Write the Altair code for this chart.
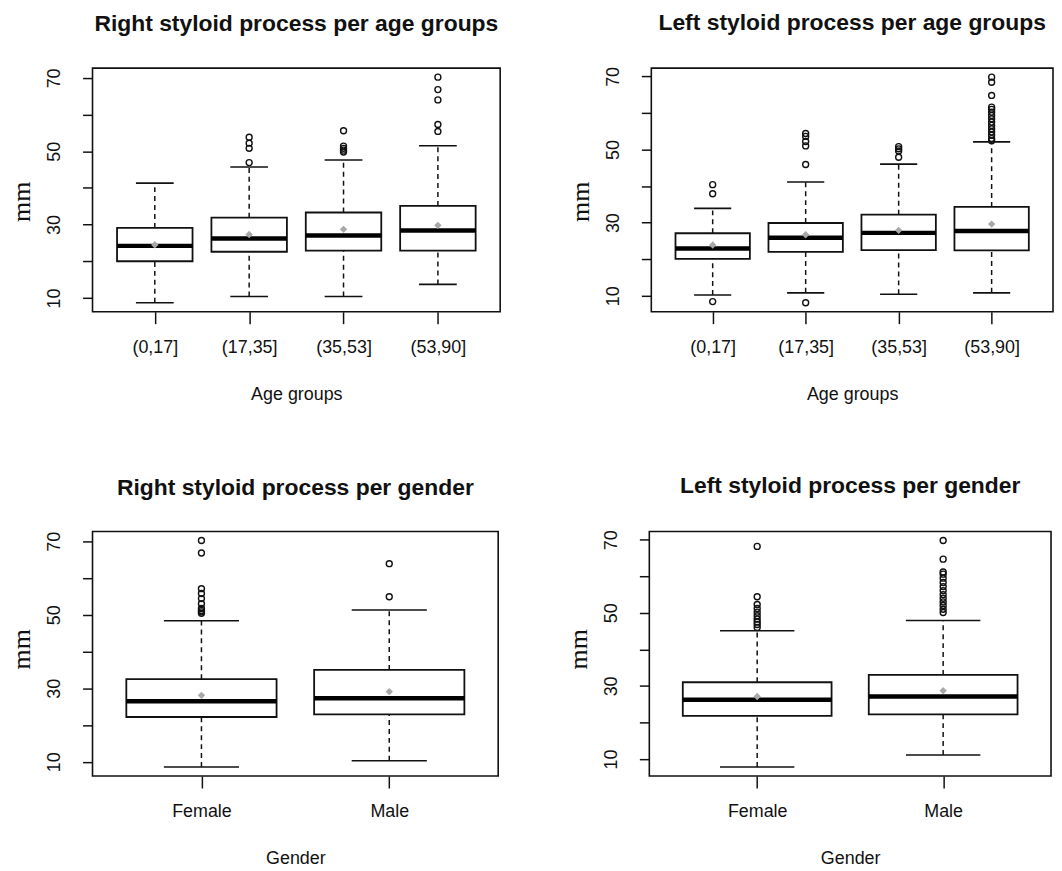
import altair as alt
import pandas as pd

AGE = ["(0,17]", "(17,35]", "(35,53]", "(53,90]"]
SEX = ["Female", "Male"]

# Right styloid process per age groups
ra_low = [8.7, 10.4, 10.4, 13.7]
ra_q1 = [20.0, 22.6, 22.9, 22.9]
ra_med = [24.2, 26.2, 27.0, 28.4]
ra_q3 = [29.1, 31.9, 33.3, 35.1]
ra_high = [41.3, 45.7, 47.6, 51.5]
ra_mean = [24.5, 27.3, 28.7, 29.8]
ra_out = [[], [53.8, 52.2, 50.8, 46.9], [55.6, 51.4, 50.8, 50.3, 49.8],
          [70.2, 66.8, 64.0, 57.3, 55.4]]

# Left styloid process per age groups
la_low = [10.2, 10.8, 10.4, 10.8]
la_q1 = [20.1, 22.0, 22.5, 22.4]
la_med = [22.9, 25.9, 27.2, 27.7]
la_q3 = [27.1, 29.9, 32.2, 34.3]
la_high = [33.9, 41.1, 46.0, 52.1]
la_mean = [23.9, 26.7, 27.9, 29.6]
la_out = [[40.4, 37.9, 8.4], [54.4, 53.6, 52.2, 51.0, 45.9, 8.1], [50.8, 50.2, 49.6, 47.9],
          [69.8, 68.4, 64.8, 61.6, 61.0, 60.2, 59.3, 58.4, 57.5, 56.6, 55.7, 54.8, 53.9, 53.0, 52.4]]

# Right styloid process per gender
rg_low = [8.6, 10.3]
rg_q1 = [22.2, 22.9]
rg_med = [26.5, 27.3]
rg_q3 = [32.5, 35.0]
rg_high = [48.4, 51.3]
rg_mean = [28.1, 29.1]
rg_out = [[70.2, 66.8, 57.1, 55.8, 54.4, 53.0, 51.7, 51.2, 50.8, 50.4], [63.9, 54.9]]

# Left styloid process per gender
lg_low = [7.8, 11.1]
lg_q1 = [21.8, 22.2]
lg_med = [26.2, 27.1]
lg_q3 = [31.0, 33.0]
lg_high = [45.1, 47.9]
lg_mean = [27.1, 28.7]
lg_out = [[68.2, 54.4, 52.3, 51.2, 50.2, 49.2, 48.3, 47.5, 46.8, 46.0],
          [69.8, 64.7, 61.2, 60.6, 59.5, 58.3, 57.2, 56.1, 55.0, 54.0, 53.0, 52.0, 51.0, 50.1]]

Y_TICKS = [10, 20, 30, 40, 50, 60, 70]

FONT = "Liberation Sans"
SERIF = "Liberation Serif"
INK = "#111111"


def panel(title, cats, low, q1, med, q3, high, mean, outl, xtitle, width, height, ytitle_y):
    n = len(cats)
    unit = width / (1.08 * n)
    box_w = 0.8 * unit
    cap_w = 0.4 * unit
    stats = pd.DataFrame({"cat": cats, "low": low, "q1": q1, "med": med,
                          "q3": q3, "high": high, "mean": mean})
    out = pd.DataFrame({"cat": [c for c, vs in zip(cats, outl) for _ in vs],
                        "v": [v for vs in outl for v in vs]})
    vals = low + high + [v for vs in outl for v in vs]
    lo, hi = min(vals), max(vals)
    ext = 0.04 * (hi - lo)

    xaxis = alt.Axis(title=xtitle, labelAngle=0, domain=False, grid=False,
                     tickSize=12, tickWidth=1.5, tickColor=INK,
                     labelFont=FONT, labelFontSize=18, labelColor=INK,
                     labelPadding=29, labelBaseline="alphabetic",
                     titleFont=FONT, titleFontSize=18, titleFontWeight="normal",
                     titleColor=INK, titleBaseline="alphabetic", titleY=88)
    xscale = alt.Scale(type="point", domain=cats, padding=0.5 + 0.04 * n)
    yaxis = alt.Axis(title="mm", values=Y_TICKS, grid=False, domain=False,
                     labelExpr="datum.value % 20 == 10 ? datum.label : ''",
                     tickSize=10, tickWidth=1.5, tickColor=INK,
                     labelFont=FONT, labelFontSize=18, labelColor=INK,
                     labelAngle=270, labelAlign="center", labelBaseline="alphabetic",
                     labelPadding=23,
                     titleFont=SERIF, titleFontSize=26, titleFontWeight="normal",
                     titleColor=INK, titleAngle=270, titleAlign="center",
                     titleBaseline="alphabetic", titleX=-63, titleY=ytitle_y)
    yscale = alt.Scale(domain=[lo - ext, hi + ext], nice=False, zero=False)

    X = alt.X("cat:N", scale=xscale, axis=xaxis)

    base = alt.Chart(stats)
    up = base.mark_rule(color=INK, strokeWidth=1.5, strokeDash=[5, 4]).encode(
        x=X, y=alt.Y("q3:Q", scale=yscale, axis=yaxis), y2="high:Q")
    down = base.mark_rule(color=INK, strokeWidth=1.5, strokeDash=[5, 4]).encode(
        x=X, y=alt.Y("low:Q", scale=yscale, axis=yaxis), y2="q1:Q")
    cap_hi = base.mark_tick(color=INK, size=cap_w, thickness=1.6, opacity=1).encode(
        x=X, y=alt.Y("high:Q", scale=yscale, axis=yaxis))
    cap_lo = base.mark_tick(color=INK, size=cap_w, thickness=1.6, opacity=1).encode(
        x=X, y=alt.Y("low:Q", scale=yscale, axis=yaxis))
    box = base.mark_bar(fill="white", stroke=INK, strokeWidth=1.8, size=box_w,
                        opacity=1).encode(
        x=X, y=alt.Y("q1:Q", scale=yscale, axis=yaxis), y2="q3:Q")
    median = base.mark_tick(color="#000000", size=box_w, thickness=4.5, opacity=1).encode(
        x=X, y=alt.Y("med:Q", scale=yscale, axis=yaxis))
    mean_pt = base.mark_point(shape="diamond", filled=True, color="#a8a8a8",
                              size=55, opacity=1).encode(
        x=X, y=alt.Y("mean:Q", scale=yscale, axis=yaxis))
    outliers = alt.Chart(out).mark_point(shape="circle", filled=False, color=INK,
                                         size=36, strokeWidth=1.4, opacity=1).encode(
        x=X, y=alt.Y("v:Q", scale=yscale, axis=yaxis))

    return alt.layer(up, down, cap_hi, cap_lo, box, median, mean_pt, outliers).properties(
        width=width, height=height,
        title=alt.TitleParams(text=title, font=FONT, fontSize=23, fontWeight="bold",
                              color=INK, anchor="middle", frame="group",
                              baseline="alphabetic", offset=14))


p1 = panel("Right styloid process per age groups", AGE, ra_low, ra_q1, ra_med, ra_q3,
           ra_high, ra_mean, ra_out, "Age groups", 410, 245, 134)
p2 = panel("Left styloid process per age groups", AGE, la_low, la_q1, la_med, la_q3,
           la_high, la_mean, la_out, "Age groups", 404, 245, 134)
p3 = panel("Right styloid process per gender", SEX, rg_low, rg_q1, rg_med, rg_q3,
           rg_high, rg_mean, rg_out, "Gender", 408, 246, 118)
p4 = panel("Left styloid process per gender", SEX, lg_low, lg_q1, lg_med, lg_q3,
           lg_high, lg_mean, lg_out, "Gender", 404, 246, 118)

top = alt.hconcat(p1, p2, spacing=66)
bottom = alt.hconcat(p3, p4, spacing=66)

chart = alt.vconcat(top, bottom, spacing=70).properties(
    padding={"left": 0, "top": 0, "right": 0, "bottom": 0},
    background="white",
).configure_view(stroke=INK, strokeWidth=1.6).resolve_scale(y="independent")

chart.save("out.html", embed_options={"renderer": "svg", "actions": False})
